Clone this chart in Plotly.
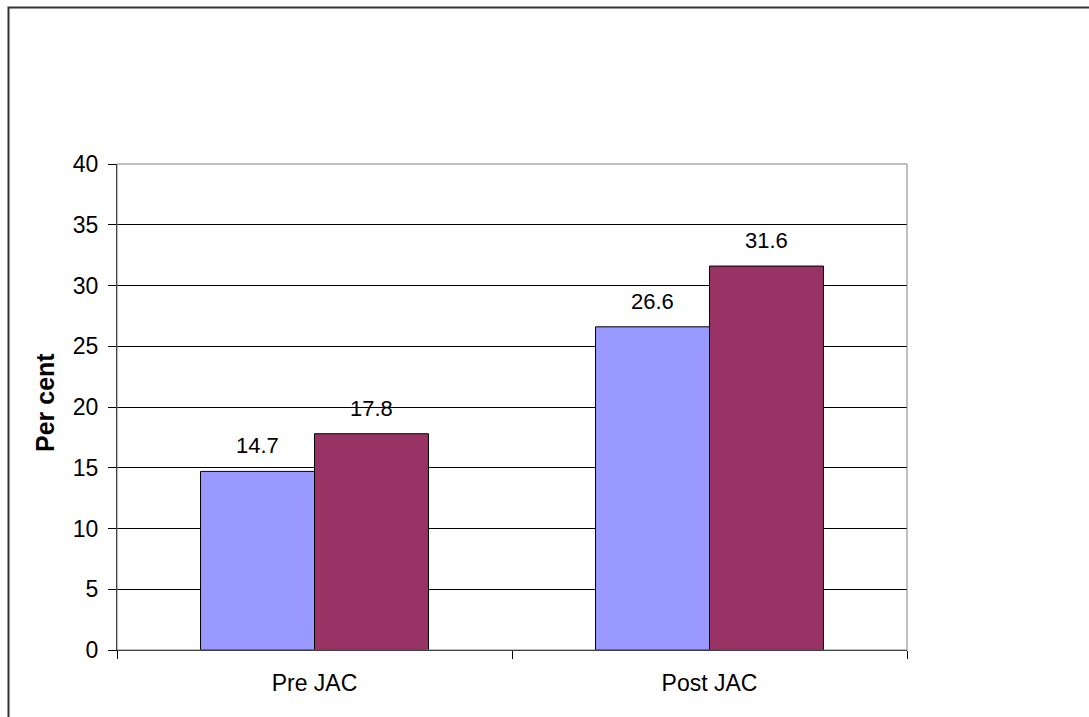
import plotly.graph_objects as go

categories = ["Pre JAC", "Post JAC"]
series_a = [14.7, 26.6]
series_b = [17.8, 31.6]
y_ticks = [0, 5, 10, 15, 20, 25, 30, 35, 40]

W, H = 1089, 717
L, R, T, B = 117, 182, 164, 67
PW, PH = W - L - R, H - T - B

def px_x(px):
    return (px - L) / PW

def px_y(py):
    return (H - B - py) / PH

FONT = "Liberation Sans, Arial, sans-serif"

fig = go.Figure()
fig.add_trace(go.Bar(x=categories, y=series_a, marker=dict(color="#9999FF", line=dict(color="black", width=1))))
fig.add_trace(go.Bar(x=categories, y=series_b, marker=dict(color="#993366", line=dict(color="black", width=1))))

annotations = []
for i, cat in enumerate(categories):
    for k, vals in enumerate((series_a, series_b)):
        annotations.append(dict(
            x=i + (-0.144 if k == 0 else 0.144), y=vals[i], xref="x", yref="y",
            text=f"{vals[i]:.1f}", showarrow=False, yanchor="bottom", xanchor="center",
            yshift=11, font=dict(size=22, color="black", family=FONT),
        ))

annotations.append(dict(
    x=px_x(45), y=px_y(403), xref="paper", yref="paper", text="<b>Per cent</b>",
    textangle=-90, showarrow=False, xanchor="center", yanchor="middle",
    font=dict(size=25, color="black", family=FONT),
))

shapes = [
    # plot area border (top and right edges)
    dict(type="rect", xref="paper", yref="paper", x0=0, x1=1, y0=0, y1=1,
         line=dict(color="#808080", width=1), layer="above"),
    # chart frame
    dict(type="rect", xref="paper", yref="paper", x0=px_x(8.5), x1=px_x(1110),
         y0=px_y(740), y1=px_y(7.5), line=dict(color="#333333", width=2), layer="above"),
]

fig.update_layout(
    width=W, height=H,
    margin=dict(l=L, r=R, t=T, b=B),
    paper_bgcolor="white", plot_bgcolor="white",
    barmode="group", bargap=0.423, bargroupgap=0,
    showlegend=False,
    font=dict(family=FONT, size=23, color="black"),
    annotations=annotations, shapes=shapes,
)
fig.update_xaxes(
    type="category", tickson="boundaries", ticks="outside", ticklen=8,
    tickcolor="black", showline=True, linecolor="black", linewidth=1,
    showgrid=False, tickfont=dict(size=23, family=FONT), ticklabelstandoff=12,
)
fig.update_yaxes(
    range=[0, 40], tickvals=y_ticks, ticks="outside", ticklen=8, tickcolor="black",
    showline=True, linecolor="black", linewidth=1,
    showgrid=True, gridcolor="black", gridwidth=1, zeroline=False,
    tickfont=dict(size=23, family=FONT), ticklabelstandoff=5,
)

fig.write_html("out.html")
